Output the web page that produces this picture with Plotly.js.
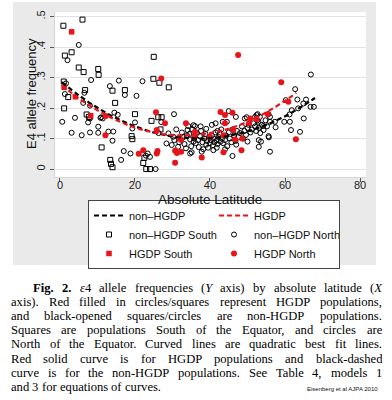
<!DOCTYPE html>
<html><head><meta charset="utf-8">
<script src="https://cdn.plot.ly/plotly-3.0.1.min.js"></script>
<style>html,body{margin:0;padding:0;background:#fff}</style>
</head><body><div id="chart" style="width:392px;height:400px"></div>
<script>
// ---- data ----
const nhS_lat = [0.9,6,3.1,1.3,25,5,6.3,10.2,10.3,24.9,
  26.5,29,1,6.7,14,17.3,2.2,1.1,14.7,20,
  24.4,26.2,27.1,26.8,7.1,7.7,19.1,19.3,11.1,13.4,
  13.6,14,22.2,22.5,23,24];
const nhS_f = [.47,.49,.383,.372,.368,.333,.318,.328,.309,.296,
  .283,.268,.287,.259,.257,.259,.236,.199,.217,.18,
  .158,.17,.17,.13,.179,.171,.108,.098,.071,.03,
  .017,.006,.02,.037,0,0];

const nhN_lat = [5,2,8.3,15.7,22,1.6,13.3,1.3,6.5,6.2,
  8,17.3,20.4,0.6,4,8,10.8,11.4,10.2,7.5,
  14.5,15.4,20,19.3,3.1,5.8,8,10.2,12.9,14.2,
  14,17,18.8,16.3,23.4,24,22.9,25.5,30.4,27,
  11,28.9,30.2,28.4,29.8,31.5,33.6,34.7,34.2,35.6,
  36,33.8,34.7,35.6,37.8,40.9,41.8,46,45,46.9,
  43.4,49.3,49.8,52,52.7,55.6,56,53.3,52.4,52.9,
  54.2,57.3,56,57.5,55.7,56,53,53.6,53,55.6,
  60.2,63.3,65.6,64.9,67.7,66.8,63.5,61.8,61.2,65,
  59.8,61.3,61.6,64,62.7,66.9,35.1,26.3,
  30.5,31,31.8,32.5,33,33.2,34,34.5,35,35.3,
  35.8,36.2,36.5,36.8,37,37.3,37.6,38,38.2,38.5,
  38.8,39,39.2,39.5,39.8,40,40.2,40.5,40.8,41,
  41.2,41.5,41.8,42,42.3,42.6,42.8,43,43.2,43.5,
  44,44.3,44.6,45,45.3,45.7,46,46.4,46.8,47.2,
  47.6,48,48.5,48.8,49.2,49.6,50,50.3,50.8,51.2,
  51.6,52,52.3,52.6,53,53.4,53.8,54.3,54.8,55.2,
  40.5,41.5,44.5,37.5,39,44,47,50,36,42];
const nhN_f = [.407,.357,.292,.29,.288,.281,.272,.246,.25,.217,
  .208,.243,.24,.155,.168,.166,.168,.166,.139,.153,
  .185,.178,.153,.133,.119,.111,.12,.119,.123,.123,
  .093,.059,.051,.03,.051,.04,.044,0,.18,.154,
  .17,.117,.106,.084,.079,.073,.068,.051,.141,.144,
  .141,.111,.097,.09,.057,.062,.07,.043,.19,.171,
  .155,.166,.17,.171,.18,.18,.171,.171,.177,.155,
  .141,.155,.155,.137,.104,.057,.095,.09,.073,.108,
  .226,.228,.228,.215,.204,.204,.199,.193,.179,.166,
  .155,.155,.128,.122,.262,.31,.055,.118,
  .095,.13,.088,.12,.105,.082,.128,.115,.075,.13,
  .101,.085,.118,.095,.072,.108,.125,.088,.065,.1,
  .115,.08,.092,.07,.105,.085,.095,.11,.078,.1,
  .088,.12,.094,.082,.105,.115,.09,.13,.1,.085,
  .095,.11,.075,.12,.1,.088,.13,.11,.092,.125,
  .105,.118,.14,.1,.125,.112,.135,.145,.12,.13,
  .15,.14,.125,.16,.135,.118,.145,.128,.16,.14,
  .145,.15,.155,.14,.132,.065,.08,.09,.11,.125];

const hS_lat = [3.1,1.1,4.1,8.2];
const hS_f = [.45,.268,.237,.175];

const hN_lat = [47.5,27,59,60.9,25.6,28,12.1,12.2,21,22.2,
  25.8,26,30.7,32.3,30.7,32.3,31.2,33.6,32,36,
  35.8,37.8,42.8,44,46,44,50.4,52.4,46.2,43.6,
  40,46.7,48.6,43.6,48.4,50.7,55.4,62.9,25.8];
const hN_f = [.374,.297,.285,.221,.186,.15,.111,.174,.05,.062,
  .051,.059,.021,.095,.06,.057,.053,.15,.1,.122,
  .106,.038,.187,.177,.185,.15,.15,.163,.128,.111,
  .106,.097,.1,.055,.062,.166,.18,.098,.128];

// quadratic best-fit curves
const fitNH_lat = [0.5,5,10,15,20,25,30,35,40,45,50,55,60,65,68];
const fitNH_f = [.285,.242,.201,.167,.140,.120,.107,.101,.101,.109,.124,.145,.173,.209,.233];
const fitH_lat = [0.5,5,10,15,20,25,30,35,40,45,50,55,60,63];
const fitH_f = [.275,.232,.193,.161,.136,.120,.111,.111,.118,.132,.155,.186,.224,.25];

const xTicks = [0,20,40,60,80];
const xTickText = ['0','20','40','60','80'];
const yTicks = [0,.1,.2,.3,.4,.5];
const yTickText = ['0','.1','.2','.3','.4','.5'];

const xTitle = 'Absolute Latitude';
const yTitle = 'E4 allele frequency';
const seriesNames = ['non–HGDP','HGDP','non–HGDP South','non–HGDP North','HGDP South','HGDP North'];

const captionLines = [
  '<b>Fig.</b> <b>2.</b> <i>ε</i>4 allele frequencies (<i>Y</i> axis) by absolute latitude (<i>X</i>',
  'axis). Red filled in circles/squares represent HGDP populations,',
  'and black-opened squares/circles are non-HGDP populations.',
  'Squares are populations South of the Equator, and circles are',
  'North of the Equator. Curved lines are quadratic best fit lines.',
  'Red solid curve is for HGDP populations and black-dashed',
  'curve is for the non-HGDP populations. See Table 4, models 1',
  'and 3 for equations of curves.'
];
const creditText = 'Eisenberg et al AJPA 2010';

// ---- drawing ----
const RED = '#e8141a';
const SANS = 'Liberation Sans, Arial, sans-serif';
const traces = [
  {x: nhS_lat, y: nhS_f, name: seriesNames[2], type: 'scatter', mode: 'markers', legendrank: 3,
   marker: {symbol: 'square-open', size: 5, color: '#000', line: {width: 1, color: '#000'}}},
  {x: nhN_lat, y: nhN_f, name: seriesNames[3], type: 'scatter', mode: 'markers', legendrank: 4,
   marker: {symbol: 'circle-open', size: 5, color: '#000', line: {width: 1, color: '#000'}}},
  {x: hS_lat, y: hS_f, name: seriesNames[4], type: 'scatter', mode: 'markers', legendrank: 5,
   marker: {symbol: 'square', size: 5.5, color: RED}},
  {x: hN_lat, y: hN_f, name: seriesNames[5], type: 'scatter', mode: 'markers', legendrank: 6,
   marker: {symbol: 'circle', size: 6, color: RED}},
  {x: fitNH_lat, y: fitNH_f, name: seriesNames[0], type: 'scatter', mode: 'lines', legendrank: 1,
   line: {color: '#000', width: 2.2, dash: '5px,3px', shape: 'spline'}},
  {x: fitH_lat, y: fitH_f, name: seriesNames[1], type: 'scatter', mode: 'lines', legendrank: 2,
   line: {color: RED, width: 2.2, dash: '5px,3px', shape: 'spline'}}
];

// plot area in px: left 55, right 366, top 12, bottom 177
const PL = 55, PW = 311, PT = 12, PH = 165;
const px2x = p => (p - PL) / PW;
const py2y = p => (PT + PH - p) / PH;

const annotations = [
  {xref: 'paper', yref: 'paper', x: px2x(210), y: py2y(199), xanchor: 'center', yanchor: 'middle',
   showarrow: false, text: xTitle, font: {family: SANS, size: 13.5, color: '#111'}},
  {xref: 'paper', yref: 'paper', x: px2x(31), y: py2y(93), xanchor: 'center', yanchor: 'middle',
   showarrow: false, text: yTitle, textangle: -90, font: {family: SANS, size: 13, color: '#111'}}
];
const capFont = 'Liberation Serif';
const capSize = 12.6;
const cv = document.createElement('canvas').getContext('2d');
function measureHTML(s) {
  let b = false, it = false, w = 0;
  s.split(/(<\/?[bi]>)/).forEach(p => {
    if (p === '<b>') b = true; else if (p === '</b>') b = false;
    else if (p === '<i>') it = true; else if (p === '</i>') it = false;
    else if (p) { cv.font = (it ? 'italic ' : '') + (b ? 'bold ' : '') + capSize + 'px "' + capFont + '"'; w += cv.measureText(p).width; }
  });
  return w;
}
const CAP_L = 10, CAP_R = 381, CAP_IND = 32, CAP_TOP = 288, CAP_STEP = 14.1;
captionLines.forEach((line, li) => {
  const words = line.split(' ');
  const left = li === 0 ? CAP_IND : CAP_L;
  const widths = words.map(measureHTML);
  const total = widths.reduce((a, b) => a + b, 0);
  const last = li === captionLines.length - 1;
  const spaceW = measureHTML(' ');
  const gap = last ? spaceW : (CAP_R - left - total) / (words.length - 1);
  let pos = left;
  const yc = CAP_TOP + li * CAP_STEP;
  words.forEach((w, wi) => {
    annotations.push({xref: 'paper', yref: 'paper', x: px2x(pos - 1), y: py2y(yc),
      xanchor: 'left', yanchor: 'middle', showarrow: false, text: w,
      font: {family: capFont, size: capSize, color: '#000'}});
    pos += widths[wi] + gap;
  });
});
annotations.push({xref: 'paper', yref: 'paper', x: px2x(380), y: py2y(389),
  xanchor: 'right', yanchor: 'middle', showarrow: false, text: creditText,
  font: {family: SANS, size: 6, color: '#111'}});

const layout = {
  width: 392, height: 400,
  margin: {l: PL, r: 392 - PL - PW, t: PT, b: 400 - PT - PH},
  paper_bgcolor: '#ffffff', plot_bgcolor: '#ffffff',
  showlegend: true,
  font: {family: SANS, color: '#222'},
  xaxis: {range: [-1.33, 81.6], tickvals: xTicks, ticktext: xTickText, ticks: 'outside', ticklen: 4,
    tickwidth: 1, tickcolor: '#555', showgrid: false, zeroline: false, showline: true,
    linecolor: '#d6d6d6', linewidth: 1, ticklabelstandoff: -6,
    tickfont: {family: SANS, size: 11, color: '#222'}},
  yaxis: {range: [-0.026, 0.515], tickvals: yTicks, ticktext: yTickText, tickangle: -90,
    ticks: 'outside', ticklen: 4, tickwidth: 1, tickcolor: '#555', showgrid: true,
    gridcolor: '#e2e2e2', gridwidth: 1, zeroline: false, showline: true, linecolor: '#d6d6d6',
    ticklabelstandoff: 1, tickfont: {family: SANS, size: 11, color: '#222'}},
  legend: {orientation: 'h', x: px2x(88), y: py2y(200), xanchor: 'left', yanchor: 'top',
    bgcolor: '#ffffff', bordercolor: '#444', borderwidth: 1, entrywidth: 80,
    font: {family: SANS, size: 11, color: '#111'}, itemwidth: 30},
  shapes: [
    {type: 'rect', xref: 'paper', yref: 'paper', layer: 'below', x0: px2x(13), x1: px2x(376),
     y0: py2y(265), y1: py2y(2), fillcolor: '#eaeaea', line: {width: 0}},
    {type: 'rect', xref: 'paper', yref: 'paper', layer: 'below', x0: 0, x1: 1, y0: 0, y1: 1,
     fillcolor: '#ffffff', line: {width: 0}}
  ],
  annotations: annotations
};

Plotly.newPlot('chart', traces, layout, {staticPlot: true, displayModeBar: false});
</script></body></html>
